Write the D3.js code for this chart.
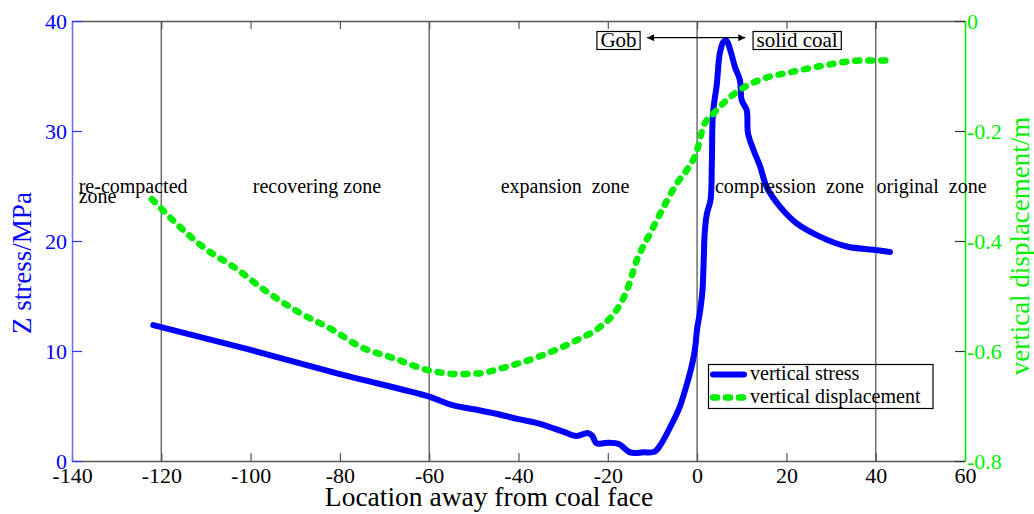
<!DOCTYPE html>
<html><head><meta charset="utf-8">
<script src="https://cdn.jsdelivr.net/npm/d3@7"></script>
<style>html,body{margin:0;padding:0;background:#fff;} svg{display:block;} text{font-family:"Liberation Serif","Times New Roman",serif;}</style>
</head><body>
<script>
// ---- data ----
const stressX = [-121.8,-100,-80,-60,-55,-50,-45,-40,-35,-30,-27,-24.5,-23.5,-22.5,-20,-17.5,-15,-12,-9.5,-8,-6,-4,-2,-1,-0.4,0,0.7,1.2,1.5,1.7,2.2,3.0,3.3,3.5,3.9,4.4,5.1,5.9,6.6,7.4,8.5,9.6,10.0,11.1,11.4,12.6,14.1,15.6,18.6,22.3,27.5,33.5,39.5,43.2];
const stressY = [12.35,10.1,7.9,5.85,5.1,4.7,4.3,3.8,3.36,2.67,2.27,2.55,2.3,1.6,1.67,1.55,0.78,0.79,0.85,1.6,3.1,4.8,7.4,9.0,10.4,12,13.7,15.5,18.5,20.7,22.5,23.7,27,31.3,32.8,34.2,37.1,38.1,38.2,37.4,35.8,34.6,32.8,31.9,29.8,28.3,26.8,24.9,23.1,21.6,20.4,19.5,19.2,19.0];
const dispX = [-122.1,-109.8,-103.8,-96.4,-88.9,-81.5,-75.5,-68,-60.2,-53.1,-49.3,-41.9,-34.4,-26.9,-21.7,-18,-15.7,-13.5,-10.5,-7.5,-4.5,-2.3,0,1.4,3.7,6.6,9.6,14.1,21.6,29,36.5,43.2];
const dispY = [-0.324,-0.416,-0.447,-0.492,-0.531,-0.562,-0.592,-0.613,-0.635,-0.642,-0.641,-0.627,-0.607,-0.58,-0.556,-0.525,-0.489,-0.435,-0.386,-0.338,-0.295,-0.271,-0.235,-0.192,-0.168,-0.144,-0.125,-0.107,-0.092,-0.08,-0.072,-0.072];
const xTicks = [-140,-120,-100,-80,-60,-40,-20,0,20,40,60];
const xTickLabels = ["-140","-120","-100","-80","-60","-40","-20","0","20","40","60"];
const yLeftTicks = [0,10,20,30,40];
const yLeftTickLabels = ["0","10","20","30","40"];
const yRightTicks = [0,-0.2,-0.4,-0.6,-0.8];
const yRightTickLabels = ["0","-0.2","-0.4","-0.6","-0.8"];
const zoneLines = [-120,-60,0,40];
const zoneLabels = ["re-compacted","recovering zone","expansion\u00a0\u00a0zone","compression\u00a0\u00a0zone","original\u00a0\u00a0zone"];
const legendLabels = ["vertical stress","vertical displacement"];
const boxLabels = ["Gob","solid coal"];

// ---- layout ----
const W=1034,H=514;
const L=72,R=965,T=21,B=461;
const svg=d3.select("body").append("svg").attr("width",W).attr("height",H);
const x=d3.scaleLinear().domain([-140,60]).range([L,R]);
const yL=d3.scaleLinear().domain([0,40]).range([B,T]);
const yR=d3.scaleLinear().domain([-0.8,0]).range([B,T]);

const blue="#0000ff", green="#00ee00";

// zone vertical lines
svg.selectAll(".zl").data(zoneLines).enter().append("line")
  .attr("x1",d=>x(d)).attr("x2",d=>x(d)).attr("y1",T).attr("y2",B)
  .attr("stroke","#6e6e6e").attr("stroke-width",1.5);

// top border with inward ticks
const topAx=svg.append("g").attr("transform",`translate(0,${T})`)
  .call(d3.axisBottom(x).tickValues(xTicks).tickSizeInner(8).tickSizeOuter(0).tickFormat(""));
topAx.select(".domain").attr("stroke","#555").attr("stroke-width",1.5);
topAx.selectAll(".tick line").attr("stroke","#555").attr("stroke-width",1.2);

// bottom axis
const botAx=svg.append("g").attr("transform",`translate(0,${B})`)
  .call(d3.axisTop(x).tickValues(xTicks).tickSizeInner(8).tickSizeOuter(0).tickFormat((d,i)=>xTickLabels[i]));
botAx.select(".domain").attr("stroke","#555").attr("stroke-width",1.5);
botAx.selectAll(".tick line").attr("stroke","#555").attr("stroke-width",1.2);
botAx.selectAll(".tick text").attr("y",22).attr("dy","0").attr("fill","#000")
  .style("font-size","22px").style("font-family","Liberation Serif");

// left axis
const leftAx=svg.append("g").attr("transform",`translate(${L},0)`)
  .call(d3.axisRight(yL).tickValues(yLeftTicks).tickSizeInner(10).tickSizeOuter(0).tickFormat((d,i)=>yLeftTickLabels[i]));
leftAx.select(".domain").attr("stroke","#6b6bff").attr("stroke-width",1.5);
leftAx.selectAll(".tick line").attr("stroke","#3333ff").attr("stroke-width",1.2);
leftAx.selectAll(".tick text").attr("x",-5).attr("text-anchor","end").attr("dy","0.35em").attr("fill",blue)
  .style("font-size","22px").style("font-family","Liberation Serif");

// right axis
const rightAx=svg.append("g").attr("transform",`translate(${R},0)`)
  .call(d3.axisLeft(yR).tickValues(yRightTicks).tickSizeInner(10).tickSizeOuter(0).tickFormat((d,i)=>yRightTickLabels[i]));
rightAx.select(".domain").attr("stroke",green).attr("stroke-width",1.5);
rightAx.selectAll(".tick line").attr("stroke","#333").attr("stroke-width",1.2);
rightAx.selectAll(".tick text").attr("x",2).attr("text-anchor","start").attr("dy","0.35em").attr("fill",green)
  .style("font-size","22px").style("font-family","Liberation Serif");

// axis titles
svg.append("text").attr("transform",`translate(31,263) rotate(-90)`).attr("text-anchor","middle")
  .attr("fill",blue).style("font-size","27px").text("Z stress/MPa");
svg.append("text").attr("transform",`translate(1029,246) rotate(-90)`).attr("text-anchor","middle")
  .attr("fill",green).style("font-size","27px").text("vertical displacement/m");
svg.append("text").attr("x",489).attr("y",506).attr("text-anchor","middle")
  .attr("fill","#000").style("font-size","27.5px").text("Location away from coal face");

// curves
const stress=stressX.map((d,i)=>[d,stressY[i]]);
const disp=dispX.map((d,i)=>[d,dispY[i]]);
svg.append("path").datum(stress)
  .attr("d",d3.line().x(d=>x(d[0])).y(d=>yL(d[1])).curve(d3.curveCatmullRom.alpha(0.5)))
  .attr("fill","none").attr("stroke",blue).attr("stroke-width",6).attr("stroke-linecap","round").attr("stroke-linejoin","round");
svg.append("path").datum(disp)
  .attr("d",d3.line().x(d=>x(d[0])).y(d=>yR(d[1])).curve(d3.curveMonotoneX))
  .attr("fill","none").attr("stroke",green).attr("stroke-width",6.5).attr("stroke-linecap","round")
  .attr("stroke-dasharray","4,9");

// zone labels
const zoneX=[-138.5,-99.5,-44,4,40.2];
svg.selectAll(".zt").data(zoneLabels).enter().append("text")
  .attr("x",(d,i)=>x(zoneX[i])).attr("y",193).attr("fill","#000")
  .style("font-size","20px").text(d=>d);
svg.append("text").attr("x",x(-138.5)).attr("y",203).attr("fill","#000").style("font-size","20px").text("zone");

// Gob / solid coal boxes and arrow
const defs=svg.append("defs");
defs.append("marker").attr("id","ah").attr("viewBox","0 0 10 10").attr("refX",10).attr("refY",5)
  .attr("markerWidth",10).attr("markerHeight",7).attr("markerUnits","userSpaceOnUse").attr("orient","auto-start-reverse")
  .append("path").attr("d","M0,0 L10,5 L0,10 z").attr("fill","#000");
const boxG=svg.append("g");
const boxX=[-17.6,22.4];
const boxT=boxLabels.map((lab,i)=>boxG.append("text").attr("x",x(boxX[i])).attr("y",46.5)
  .attr("text-anchor","middle").style("font-size","21px").text(lab));
boxT.forEach(t=>{const b=t.node().getBBox();
  boxG.insert("rect",()=>t.node()).attr("x",b.x-3.5).attr("y",31.5).attr("width",b.width+7).attr("height",18)
    .attr("fill","#fff").attr("stroke","#000").attr("stroke-width",1.2);});
svg.append("line").attr("x1",x(-11.2)).attr("x2",x(10.8)).attr("y1",37.7).attr("y2",37.7)
  .attr("stroke","#000").attr("stroke-width",1.2).attr("marker-start","url(#ah)").attr("marker-end","url(#ah)");

// legend
const lg=svg.append("g");
lg.append("rect").attr("x",708.5).attr("y",364.5).attr("width",224.5).attr("height",44)
  .attr("fill","none").attr("stroke","#000").attr("stroke-width",1.2);
lg.append("line").attr("x1",713).attr("x2",744).attr("y1",374.5).attr("y2",374.5)
  .attr("stroke",blue).attr("stroke-width",6).attr("stroke-linecap","round");
lg.append("line").attr("x1",713).attr("x2",746).attr("y1",397.5).attr("y2",397.5)
  .attr("stroke",green).attr("stroke-width",6.5).attr("stroke-linecap","round").attr("stroke-dasharray","4,9");
lg.selectAll(".lt").data(legendLabels).enter().append("text")
  .attr("x",750).attr("y",(d,i)=>380+i*23).style("font-size","20px").attr("fill","#000").text(d=>d);
</script>
</body></html>
